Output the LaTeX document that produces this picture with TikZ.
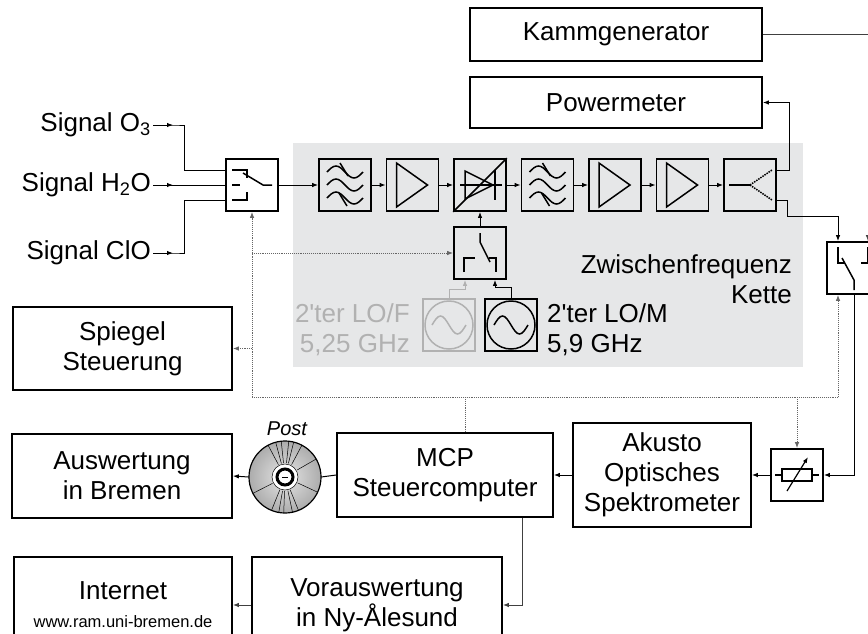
\documentclass[tikz,border=0pt]{standalone}
\usepackage{fontspec}
\setmainfont{Liberation Sans}
\usetikzlibrary{arrows.meta, positioning}
\definecolor{zfgray}{HTML}{E6E7E8}
\definecolor{lofgray}{HTML}{B1B1B1}
\tikzset{
>={Latex[length=6pt, width=4.5pt]}, % small filled arrow heads
blk/.style={draw, line width=1.7pt, minimum size=52pt, inner sep=0pt}, % symbol blocks
box/.style={draw, line width=1.7pt, align=center, inner sep=0pt, font=\fontsize{26}{30}\selectfont}, % text blocks
lbl/.style={font=\fontsize{26}{30}\selectfont, inner sep=2pt}, % free labels
sig/.style={->, line width=1pt}, % signal lines
ctl/.style={->, densely dotted, line width=0.9pt, black!60}, % control lines
sym/.style={line width=1.5pt}, % drawing inside the blocks
}

\begin{document}
\begin{tikzpicture}[x=1pt, y=-1pt]
  \useasboundingbox (0,0) rectangle (868,633);
  \fill[zfgray] (293,143) rectangle (803,367);

  % text blocks
  \node[box, minimum width=292pt, minimum height=53pt] (kg) at (616,34.5) {Kammgenerator};
  \node[box, minimum width=292pt, minimum height=51pt] (pm) at (616,102.5) {Powermeter};
  \node[box, minimum width=219pt, minimum height=83pt] (sp) at (122.5,348.5) {Spiegel\\Steuerung};
  \node[box, minimum width=220pt, minimum height=84pt] (ausw) at (122,476) {Auswertung\\in Bremen};
  \node[box, minimum width=216pt, minimum height=84pt] (mcp) at (445,475) {MCP\\Steuercomputer};
  \node[box, minimum width=178pt, minimum height=104pt] (aos) at (662,475) {Akusto\\Optisches\\Spektrometer};
  \node[box, minimum width=218pt, minimum height=96pt] (inet) at (123,605)
    {Internet\\[-2pt]{\fontsize{16.5}{19}\selectfont www.ram.uni-bremen.de}};
  \node[box, minimum width=250pt, minimum height=96pt] (vor) at (377,605) {Vorauswertung\\in Ny-Ålesund};

  % free labels
  \node[lbl, anchor=east] (so3) at (153,125) {Signal O\textsubscript{3}};
  \node[lbl, anchor=east] (sh2o) at (153,185) {Signal H\textsubscript{2}O};
  \node[lbl, anchor=east] (sclo) at (153,253) {Signal ClO};
  \node[lbl, align=right, anchor=east] (zfk) at (794,279) {Zwischenfrequenz\\Kette};
  \node[lbl, align=right, anchor=east, text=lofgray] (loft) at (412,330) {2\textquotesingle ter LO/F\\5,25 GHz};
  \node[lbl, align=left, anchor=west] (lomt) at (545,330) {2\textquotesingle ter LO/M\\5,9 GHz};
  \node[font=\fontsize{20}{24}\selectfont\itshape, inner sep=0pt] (post) at (287,429) {Post};

  % symbol blocks
  \node[blk] (sw1) at (252,185) {};
  \foreach \i in {1,...,7}
    \node[blk] (c\i) at (277.5+67.5*\i,185) {};
  \node[blk] (lsw) at (480,253) {};
  \node[blk, draw=lofgray] (lof) at (449,325) {};
  \node[blk] (lom) at (511,325) {};
  \node[blk] (sw2) at (853,268) {};
  \node[blk] (att) at (797,475) {};

  % filters
  \foreach \c in {c1,c4} {
    \begin{scope}[shift={(\c)}, sym]
      \foreach \y in {-13,0,13}
        \draw (-18,\y) sin (-9,\y-6) cos (0,\y) sin (9,\y+6) cos (18,\y);
      \draw (-5,-22) -- (3,-9);
      \draw (-6,8) -- (2,21);
    \end{scope}
  }
  % amplifiers
  \foreach \c in {c2,c5,c6}
    \draw[sym, shift={(\c)}] (-16,-22) -- (-16,22) -- (15,0) -- cycle;
  % mixer
  \begin{scope}[shift={(c3)}, sym]
    \draw (-20,0) -- (22,0);
    \draw (-15,-14) -- (-15,14) -- (13,0) -- cycle;
    \draw (15,-15) -- (15,15);
  \end{scope}
  \draw[sym] (c3.south west) -- (c3.north east);
  % splitter
  \begin{scope}[shift={(c7)}, sym]
    \draw (-21,0) -- (0,0);
    \draw[densely dotted] (0,0) -- (22,-15) (0,0) -- (22,15);
  \end{scope}
  % switches
  \begin{scope}[shift={(sw1)}, sym]
    \draw (-20,-15) -- (-5,-15) -- (-5,-7);
    \draw (-20,0) -- (-12,0);
    \draw (-20,15) -- (-5,15) -- (-5,7);
    \draw (-9,-12) -- (11,0) -- (20,0);
  \end{scope}
  \begin{scope}[shift={(lsw)}, sym]
    \draw (-16,19) -- (-16,5) -- (-5,5);
    \draw (9,5) -- (16,5) -- (16,19);
    \draw (0,-20) -- (0,-11) -- (10,9);
  \end{scope}
  \begin{scope}[shift={(sw2)}, sym]
    \draw (-15,-21) -- (-15,-5) -- (-8,-5);
    \draw (15,-21) -- (15,-5) -- (8,-5);
    \draw (-11,-10) -- (1,12) -- (1,22);
  \end{scope}
  % oscillators
  \begin{scope}[shift={(lof)}, sym, lofgray]
    \draw (0,0) circle (24);
    \draw (-17,0) sin (-8.5,-9) cos (0,0) sin (8.5,9) cos (17,0);
  \end{scope}
  \begin{scope}[shift={(lom)}, sym]
    \draw (0,0) circle (24);
    \draw (-17,0) sin (-8.5,-9) cos (0,0) sin (8.5,9) cos (17,0);
  \end{scope}
  % attenuator
  \begin{scope}[shift={(att)}, sym]
    \draw (-22,0) -- (-15,0) (15,0) -- (22,0);
    \draw (-15,-6) rectangle (15,6);
    \draw[->, line width=1.2pt] (-10,16) -- (11,-18);
  \end{scope}

  % disc
  \node[circle, minimum size=72pt, inner sep=0pt] (cd) at (285,477) {};
  \shade[inner color=gray!20, outer color=gray!65] (cd.center) circle (36);
  \foreach \a in {62,75,84,96,104,118,150,205,248,258,272,280,292,333}
    \draw[line width=0.5pt] (cd.center) ++(\a:-14) -- ++(\a:-22);
  \draw[line width=1.2pt] (cd.center) circle (36);
  \fill[white] (cd.center) circle (13);
  \draw[line width=0.5pt] (cd.center) circle (13);
  \draw[line width=3pt] (cd.center) circle (8);
  \fill[white] (cd.center) circle (5);
  \draw[line width=1pt] (cd.center) ++(-3,0) -- ++(6,0);

  % inputs
  \draw[line width=1pt] (so3.east) -- ++(22,0) -- (184,125) |- ([yshift=15pt]sw1.west);
  \draw[sig] (so3.east) -- ++(20,0);
  \draw[line width=1pt] (sh2o.east) -- (sw1.west);
  \draw[sig] (sh2o.east) -- ++(20,0);
  \draw[line width=1pt] (sclo.east) -- ++(22,0) -- (184,253) |- ([yshift=-15pt]sw1.west);
  \draw[sig] (sclo.east) -- ++(20,0);

  % chain
  \draw[sig] (sw1.east) -- (c1.west);
  \foreach \i [count=\j from 2] in {1,...,6}
    \draw[sig] (c\i.east) -- (c\j.west);
  \draw[sig] (lsw.north) -- (c3.south);
  \draw[sig, lofgray] (lof.north) -- ++(0,-9) -| ([xshift=-15pt]lsw.south);
  \draw[sig] (lom.north) -- ++(0,-11) -| ([xshift=15pt]lsw.south);
  \draw[sig] ([yshift=15pt]c7.east) -- ++(13,0) |- (pm.east);
  \draw[sig] ([yshift=-15pt]c7.east) -- ++(11,0) -- ++(0,16) -| ([xshift=-15pt]sw2.north);
  \draw[sig, black!75, line width=0.8pt] (kg.east) -| ([xshift=15pt]sw2.north);
  \draw[sig] ([xshift=1pt]sw2.south) |- (att.east);
  \draw[sig] (att.west) -- (aos.east);
  \draw[sig] (aos.west) -- (mcp.east);
  \draw[line width=1pt] (mcp.west) -- (cd.east);
  \draw[sig] (cd.west) -- (ausw.east);
  \draw[sig, black!75] ([xshift=77pt]mcp.south) |- (vor.east);
  \draw[sig, black!75] (vor.west) -- (inet.east);

  % control lines
  \coordinate (bl) at (252,397);
  \coordinate (br) at (838,397);
  \draw[ctl, -] (bl) -- (br);
  \draw[ctl, -] ([xshift=20pt]mcp.north) -- ([xshift=20pt]mcp.north |- bl);
  \draw[ctl] (br) -- ([xshift=-15pt]sw2.south);
  \draw[ctl] (att.north |- bl) -- (att.north);
  \draw[ctl] (bl) -- (sw1.south);
  \draw[ctl] (bl |- sp.east) -- (sp.east);
  \draw[ctl] (bl |- lsw.west) -- (lsw.west);
\end{tikzpicture}
\end{document}
